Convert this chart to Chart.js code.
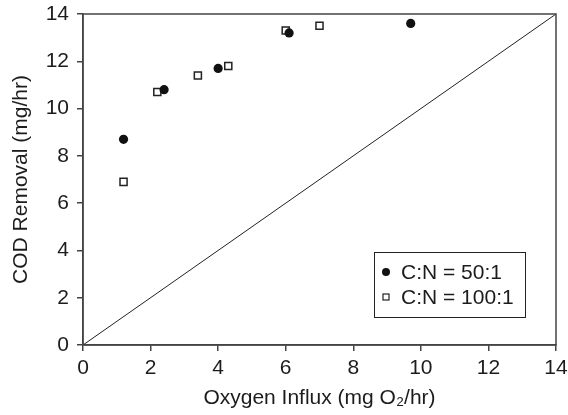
<!DOCTYPE html>
<html>
<head>
<meta charset="utf-8">
<script src="https://cdn.jsdelivr.net/npm/chart.js@4/dist/chart.umd.min.js"></script>
<style>
  html, body { margin: 0; padding: 0; background: #fff; }
  #wrap { width: 568px; height: 415px; position: relative; }
</style>
</head>
<body>
<div id="wrap"><canvas id="cod"></canvas></div>
<script>
// values
var influx50 = [1.2, 2.4, 4.0, 6.1, 9.7];
var removal50 = [8.7, 10.8, 11.7, 13.2, 13.6];
var influx100 = [1.2, 2.2, 3.4, 4.3, 6.0, 7.0];
var removal100 = [6.9, 10.7, 11.4, 11.8, 13.3, 13.5];
var oneToOne = [0, 14];
var tickValues = [0, 2, 4, 6, 8, 10, 12, 14];
var seriesLabels = ['C:N = 50:1', 'C:N = 100:1'];

function pts(xs, ys) {
  return xs.map(function (x, i) { return { x: x, y: ys[i] }; });
}

var FONT = '"Liberation Sans", Arial, sans-serif';
var SIZE = 21;
var ink = '#1c1c1c';

// box around the plot + legend inside
var frame = {
  id: 'frame',
  afterDatasetsDraw: function (chart) {
    var c = chart.ctx, a = chart.chartArea;
    c.save();
    c.strokeStyle = '#444';
    c.lineWidth = 1.5;
    c.strokeRect(a.left, a.top, a.right - a.left, a.bottom - a.top);

    var bx = 374, by = 252, bw = 151, bh = 65;
    c.fillStyle = '#fff';
    c.fillRect(bx, by, bw, bh);
    c.strokeStyle = '#222';
    c.lineWidth = 1;
    c.strokeRect(bx + 0.5, by + 0.5, bw, bh);

    c.font = SIZE + 'px ' + FONT;
    c.textBaseline = 'middle';
    // filled circle
    c.beginPath();
    c.arc(386, 272, 4, 0, Math.PI * 2);
    c.fillStyle = '#111';
    c.fill();
    c.fillStyle = ink;
    c.fillText(chart.data.datasets[0].label, 401, 273);
    // open square
    c.strokeStyle = '#222';
    c.lineWidth = 1.2;
    c.strokeRect(383, 294, 6, 6);
    c.fillText(chart.data.datasets[1].label, 401, 298);
    c.restore();
  }
};

new Chart(document.getElementById('cod'), {
  type: 'scatter',
  data: {
    datasets: [
      {
        label: seriesLabels[0],
        data: pts(influx50, removal50),
        pointStyle: 'circle',
        pointRadius: 4.6,
        backgroundColor: '#111',
        borderColor: '#111',
        borderWidth: 0
      },
      {
        label: seriesLabels[1],
        data: pts(influx100, removal100),
        pointStyle: 'rect',
        pointRadius: 5,
        backgroundColor: '#fff',
        borderColor: '#222',
        borderWidth: 1.5
      },
      {
        label: '1:1',
        type: 'line',
        data: pts(oneToOne, oneToOne),
        borderColor: '#222',
        borderWidth: 1,
        pointRadius: 0,
        fill: false,
        order: 5
      }
    ]
  },
  options: {
    responsive: true,
    maintainAspectRatio: false,
    animation: false,
    layout: { padding: { top: 14, right: 12, left: 0, bottom: 0 } },
    plugins: {
      legend: { display: false },
      tooltip: { enabled: false }
    },
    scales: {
      x: {
        type: 'linear',
        min: 0, max: 14,
        afterBuildTicks: function (s) { s.ticks = tickValues.map(function (v) { return { value: v }; }); },
        afterFit: function (s) { s.height = 70; s.paddingLeft = 0; s.paddingRight = 0; },
        grid: { drawOnChartArea: false, tickLength: 6, color: '#444', lineWidth: 1.5 },
        border: { color: '#444', width: 1.5 },
        ticks: { color: ink, font: { family: FONT, size: SIZE }, padding: 5, maxRotation: 0 },
        title: {
          display: true,
          text: 'Oxygen Influx (mg O\u2082/hr)',
          color: ink,
          font: { family: FONT, size: SIZE },
          padding: { top: 0 }
        }
      },
      y: {
        type: 'linear',
        min: 0, max: 14,
        afterBuildTicks: function (s) { s.ticks = tickValues.map(function (v) { return { value: v }; }); },
        afterFit: function (s) { s.width = 83; s.paddingTop = 0; s.paddingBottom = 0; },
        grid: { drawOnChartArea: false, tickLength: 6, color: '#444', lineWidth: 1.5 },
        border: { color: '#444', width: 1.5 },
        ticks: { color: ink, font: { family: FONT, size: SIZE }, padding: 8 },
        title: {
          display: true,
          text: 'COD Removal (mg/hr)',
          color: ink,
          font: { family: FONT, size: SIZE },
          padding: { top: 9, bottom: 0 }
        }
      }
    }
  },
  plugins: [frame]
});
</script>
</body>
</html>
